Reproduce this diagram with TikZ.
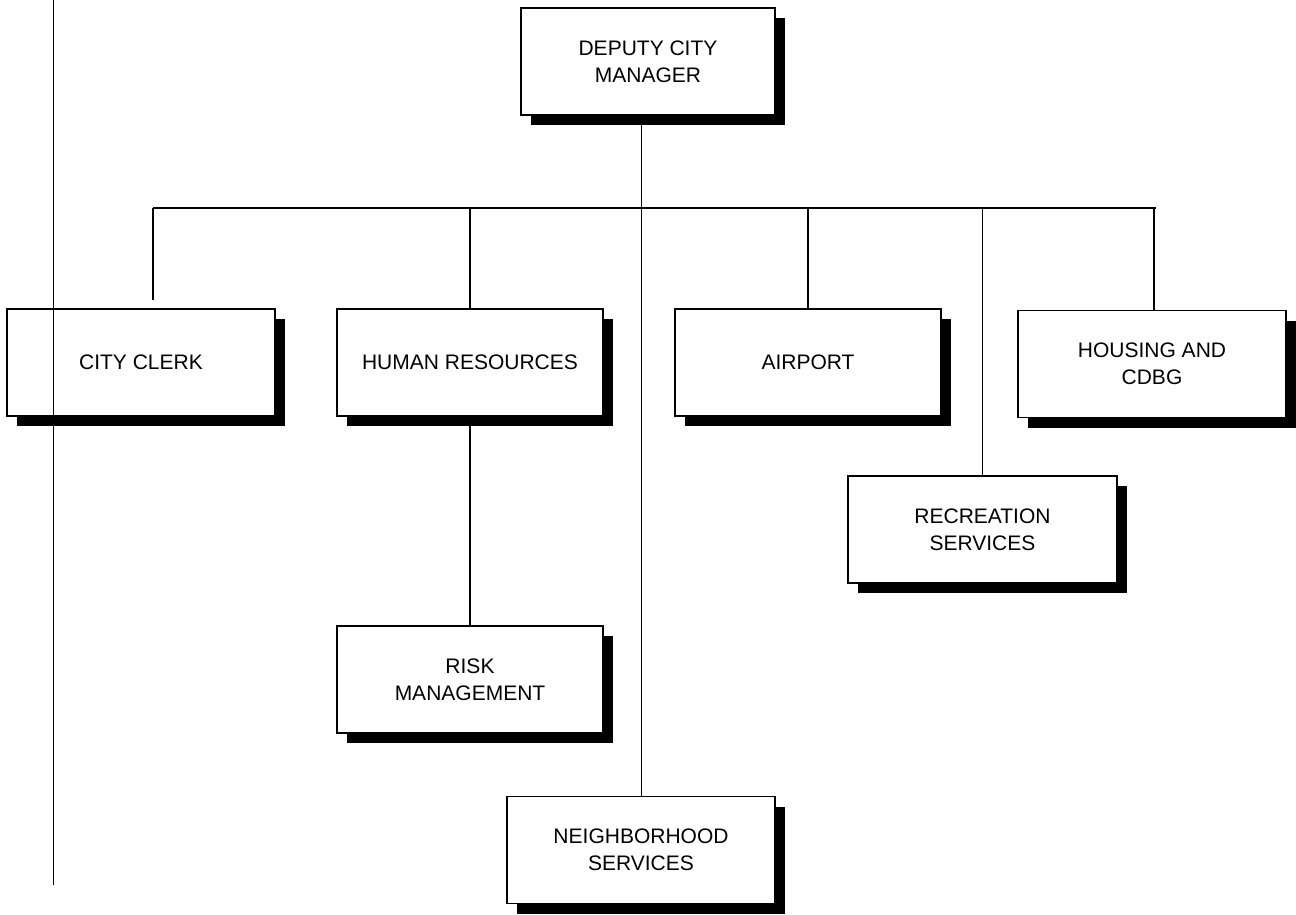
\documentclass[tikz,border=0pt]{standalone}
\usepackage{fontspec}
\setmainfont{Liberation Sans}
\usetikzlibrary{shadows}
\begin{document}
\begin{tikzpicture}[x=1pt,y=-1pt,
  unit/.style={draw, line width=1.3pt, fill=white, minimum width=266pt,
    minimum height=107pt, align=center, inner sep=0pt,
    font=\fontsize{21}{27}\selectfont,
    drop shadow={shadow xshift=10pt, shadow yshift=-10pt, fill=black, opacity=1}},
  link/.style={line width=1.3pt},
  thin link/.style={line width=1pt},
  bus/.style={line width=2pt}]
\useasboundingbox (0,0) rectangle (1296,914);

% boxes
\node[unit, minimum width=254pt] (dcm) at (648,61.5) {DEPUTY CITY\\MANAGER};
\node[unit, minimum width=268pt] (clerk) at (141,362.5) {CITY CLERK};
\node[unit] (hr) at (470,362.5) {HUMAN RESOURCES};
\node[unit] (risk) at (470,679.5) {RISK\\MANAGEMENT};
\node[unit] (air) at (808,362.5) {AIRPORT};
\node[unit, minimum width=268pt] (hous) at (1152,364) {HOUSING AND\\CDBG};
\node[unit, minimum width=269pt] (rec) at (982.5,529.5) {RECREATION\\SERVICES};
\node[unit, minimum width=268pt] (nbh) at (641,850) {NEIGHBORHOOD\\SERVICES};

% bus line and its ends
\coordinate (busL) at (153,208);
\coordinate (busR) at (1156,208);
\coordinate (clerkEnd) at (153,300);
\draw[bus] (busL) -- (busR);

% drops from the bus
\draw[link] (busL) -- (clerkEnd);
\draw[link] (hr.north) -- (hr.north |- busL);
\draw[link] (air.north) -- (air.north |- busL);
\draw[link] (rec.north) -- (rec.north |- busL);
\draw[link] ([xshift=2pt]hous.north) -- ([xshift=2pt]hous.north |- busL);

% sub-unit under human resources
\draw[link] (hr.south) -- (risk.north);

% main trunk from the deputy city manager
\draw[thin link] (nbh.north) -- (nbh.north |- dcm.south);

% left margin rule
\coordinate (ruleTop) at (53,0);
\coordinate (ruleBot) at (53,885);
\draw[thin link] (ruleTop) -- (ruleBot);
\end{tikzpicture}
\end{document}
